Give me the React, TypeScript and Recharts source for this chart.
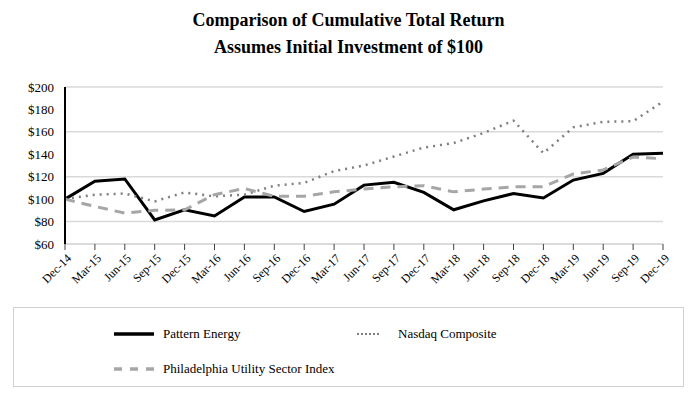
import { LineChart, Line, XAxis, YAxis, CartesianGrid } from 'recharts';

const quarters = [
  'Dec-14', 'Mar-15', 'Jun-15', 'Sep-15', 'Dec-15', 'Mar-16', 'Jun-16', 'Sep-16', 'Dec-16', 'Mar-17', 'Jun-17',
  'Sep-17', 'Dec-17', 'Mar-18', 'Jun-18', 'Sep-18', 'Dec-18', 'Mar-19', 'Jun-19', 'Sep-19', 'Dec-19',
];
const patternEnergy = [100, 116, 118, 81.5, 90.5, 85, 102, 102, 89, 95.5, 112.5, 115, 106, 90.5, 98.5, 105, 101, 117, 123, 140, 141];
const nasdaq = [100, 104, 105, 98, 106, 102.5, 104, 112, 114.5, 125, 130, 138, 146, 150, 159, 170, 141, 164, 169, 169.5, 187];
const phlUtility = [100, 93.5, 87.5, 90, 90.5, 104, 109.5, 102.5, 102.5, 106.5, 109, 111, 112, 106.5, 109, 111, 111, 122.5, 126, 137.5, 136];
const yTicks = [60, 80, 100, 120, 140, 160, 180, 200];

const SERIF = '"Liberation Serif", "Times New Roman", serif';

const series = [
  { key: 'pattern', name: 'Pattern Energy', color: '#000000', width: 3, dash: undefined as string | undefined, legendDash: undefined as string | undefined },
  { key: 'nasdaq', name: 'Nasdaq Composite', color: '#7f7f7f', width: 2.5, dash: '2 5', legendDash: '2 2' },
  { key: 'phl', name: 'Philadelphia Utility Sector Index', color: '#a6a6a6', width: 3, dash: '10 7', legendDash: '8 8' },
];

const data = quarters.map((q, i) => ({
  q,
  pattern: patternEnergy[i],
  nasdaq: nasdaq[i],
  phl: phlUtility[i],
}));

function QuarterTick({ x, y, payload }: any) {
  return (
    <g transform={`translate(${x + 4},${y + 4})`}>
      <text textAnchor="end" transform="rotate(-45)" dy="0.35em" fontSize={12} fontFamily={SERIF} fill="#000">
        {payload.value}
      </text>
    </g>
  );
}

function Swatch({ s, w, sw }: { s: (typeof series)[number]; w: number; sw: number }) {
  return (
    <svg width={w} height={8} style={{ display: 'block' }}>
      <line x1={0} y1={4} x2={w} y2={4} stroke={s.color} strokeWidth={sw} strokeDasharray={s.legendDash} />
    </svg>
  );
}

export default function App() {
  const legendPos = [
    { left: 100, top: 18, sw: 40, lw: 3.5, gap: 49 },
    { left: 343, top: 18, sw: 23, lw: 2, gap: 41 },
    { left: 100, top: 53, sw: 40, lw: 3.5, gap: 49 },
  ];
  return (
    <div style={{ position: 'absolute', left: 0, top: 0, width: 697, height: 400, background: '#fff', fontFamily: SERIF }}>
      <div style={{ position: 'absolute', left: 0, top: 7, width: 697, textAlign: 'center', fontWeight: 'bold', fontSize: 18, lineHeight: '27px' }}>
        Comparison of Cumulative Total Return
        <br />
        Assumes Initial Investment of $100
      </div>
      <div style={{ position: 'absolute', left: 0, top: 0 }}>
        <LineChart width={697} height={310} data={data} margin={{ top: 87, right: 34, left: 0, bottom: 0 }}>
          <CartesianGrid vertical={false} stroke="#d9d9d9" strokeWidth={1.5} />
          <XAxis
            dataKey="q"
            interval={0}
            height={66}
            axisLine={{ stroke: '#d9d9d9', strokeWidth: 1.5 }}
            tickLine={{ stroke: '#404040' }}
            tickSize={6}
            tick={<QuarterTick />}
          />
          <YAxis
            domain={[60, 200]}
            ticks={yTicks}
            width={65}
            axisLine={{ stroke: '#000', strokeWidth: 2 }}
            tickLine={false}
            tickSize={0}
            tickMargin={11}
            tickFormatter={(v: number) => `$${v}`}
            tick={{ fill: '#000', fontSize: 13, fontFamily: SERIF }}
          />
          {series.map((s) => (
            <Line
              key={s.key}
              dataKey={s.key}
              name={s.name}
              type="linear"
              stroke={s.color}
              strokeWidth={s.width}
              strokeDasharray={s.dash}
              dot={false}
              isAnimationActive={false}
            />
          ))}
        </LineChart>
      </div>
      <div style={{ position: 'absolute', left: 13, top: 307, width: 669, height: 78, border: '1px solid #d0d0d0' }}>
        {series.map((s, i) => (
          <div
            key={s.key}
            style={{ position: 'absolute', left: legendPos[i].left, top: legendPos[i].top, display: 'flex', alignItems: 'center', fontSize: 13 }}
          >
            <div style={{ width: legendPos[i].gap }}>
              <Swatch s={s} w={legendPos[i].sw} sw={legendPos[i].lw} />
            </div>
            <span>{s.name}</span>
          </div>
        ))}
      </div>
    </div>
  );
}
